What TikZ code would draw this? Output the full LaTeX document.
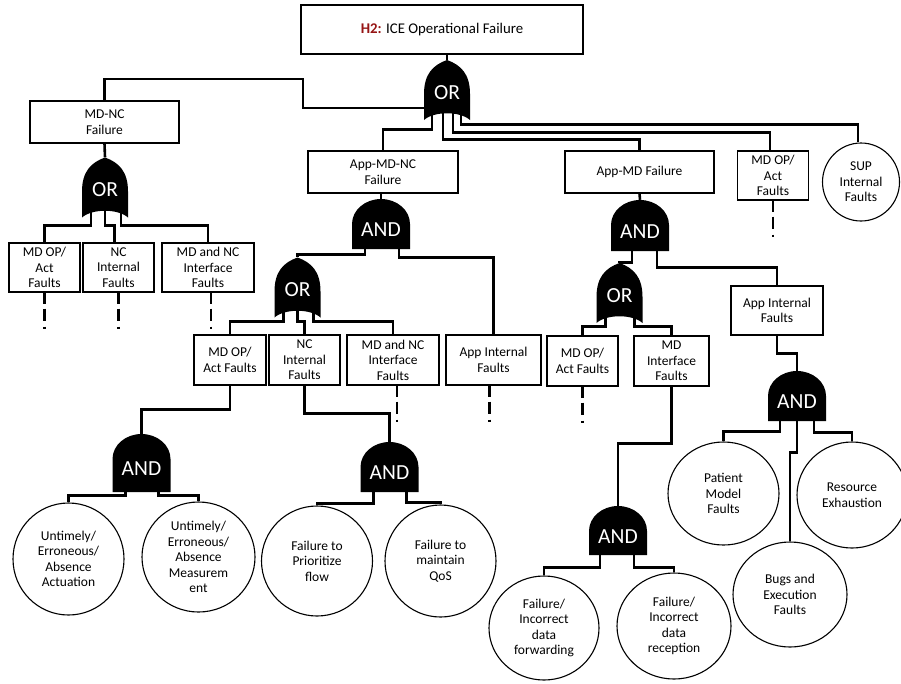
\documentclass[tikz,border=0pt]{standalone}
\usepackage{fontspec}
\setmainfont{Carlito}
\usetikzlibrary{shapes.geometric}
\definecolor{hred}{RGB}{150,20,20}
\begin{document}
\begin{tikzpicture}[x=1pt,y=-1pt,
  every node/.style={inner sep=0pt, align=center, font=\fontsize{13.5}{15.5}\selectfont},
  evbox/.style args={#1x#2}{draw, line width=1.2pt, fill=white, minimum width=#1pt, minimum height=#2pt},
  leaf/.style args={#1x#2}{ellipse, draw, line width=1.1pt, fill=white, minimum width=#1pt, minimum height=#2pt},
  gatelabel/.style={text=white, font=\fontsize{21.5}{22}\selectfont},
  orgate/.style={gatelabel, minimum width=46pt, minimum height=60pt, text height=18pt, text depth=0pt,
    path picture={\fill[black]
      (path picture bounding box.south west)
      -- ([yshift=26pt]path picture bounding box.south west)
      .. controls ([yshift=46pt]path picture bounding box.south west) and ([xshift=9pt,yshift=-5pt]path picture bounding box.north west)
      .. (path picture bounding box.north)
      .. controls ([xshift=-9pt,yshift=-5pt]path picture bounding box.north east) and ([yshift=46pt]path picture bounding box.south east)
      .. ([yshift=26pt]path picture bounding box.south east)
      -- (path picture bounding box.south east)
      .. controls ([xshift=-10pt,yshift=9pt]path picture bounding box.south east) and ([xshift=10pt,yshift=9pt]path picture bounding box.south west)
      .. (path picture bounding box.south west) -- cycle;}},
  andgate/.style={gatelabel, minimum width=58pt, minimum height=#1pt, text height=25pt, text depth=0pt,
    path picture={\fill[black]
      (path picture bounding box.south west)
      -- ([yshift=-25pt]path picture bounding box.north west)
      arc[start angle=180, end angle=0, x radius=29pt, y radius=25pt]
      -- (path picture bounding box.south east) -- cycle;}},
  wire/.style={line width=2.6pt},
  lead/.style={wire, dash pattern=on 11pt off 5pt on 12pt off 6pt on 2pt off 40pt}
]
\useasboundingbox (0,0) rectangle (901,683);

% top event and its OR gate
\node[evbox=282x49, font=\fontsize{14.8}{17}\selectfont] (top) at (442,29.5) {\textcolor{hred}{\textbf{H2:}} ICE Operational Failure};
\node[orgate] (g0) at (447,90) {OR};

% MD-NC branch
\node[evbox=149x42] (mdnc) at (104.5,122) {MD-NC\\Failure};
\node[orgate] (g1) at (105,187.5) {OR};
\node[evbox=71x49] (l1) at (44.5,267.5) {MD OP/\\Act\\Faults};
\node[evbox=71x49] (l2) at (118.5,267.5) {NC\\Internal\\Faults};
\node[evbox=92x49] (l3) at (208,267.5) {MD and NC\\Interface\\Faults};

% App-MD-NC branch
\node[evbox=150x42] (amn) at (383,172) {App-MD-NC\\Failure};
\node[andgate=50] (g2) at (381,224) {AND};
\node[orgate] (g3) at (297.5,287.5) {OR};
\node[evbox=72x50] (m1) at (230,360) {MD OP/\\Act Faults};
\node[evbox=71x50] (m2) at (304.5,360) {NC\\Internal\\Faults};
\node[evbox=92x50] (m3) at (393,360) {MD and NC\\Interface\\Faults};
\node[evbox=95x50] (ai1) at (493.5,360) {App Internal\\Faults};
\node[andgate=58] (g4) at (141.5,463) {AND};
\node[andgate=50] (g5) at (389.5,467) {AND};
\node[leaf=111x112] (c1) at (68.5,559) {Untimely/\\Erroneous/\\Absence\\Actuation};
\node[leaf=113x110] (c2) at (198.5,557) {Untimely/\\Erroneous/\\Absence\\Measurem\\ent};
\node[leaf=111x110] (c3) at (317,561) {Failure to\\Prioritize\\flow};
\node[leaf=111x112] (c4) at (440.5,561) {Failure to\\maintain\\QoS};

% App-MD branch
\node[evbox=149x42] (amd) at (639.5,172) {App-MD Failure};
\node[andgate=51] (g6) at (640,225.5) {AND};
\node[orgate] (g7) at (619.5,293) {OR};
\node[evbox=71x50] (r1) at (582.5,361) {MD OP/\\Act Faults};
\node[evbox=75x50] (r2) at (671.5,361) {MD\\Interface\\Faults};
\node[andgate=49] (g8) at (618,530.5) {AND};
\node[leaf=110x104] (c5) at (544,628) {Failure/\\Incorrect\\data\\forwarding};
\node[leaf=114x106] (c6) at (674,626) {Failure/\\Incorrect\\data\\reception};
\node[evbox=92x49] (ai2) at (777,310.5) {App Internal\\Faults};
\node[andgate=50] (g9) at (797,396) {AND};
\node[leaf=111x103] (c7) at (723.5,493.5) {Patient\\Model\\Faults};
\node[leaf=110x106] (c8) at (852,495) {Resource\\Exhaustion};
\node[leaf=114x105] (c9) at (790,594.5) {Bugs and\\Execution\\Faults};

% remaining direct children of the top gate
\node[evbox=71x49] (r3) at (773,175.5) {MD OP/\\Act\\Faults};
\node[leaf=77x78] (sup) at (861,182) {SUP\\Internal\\Faults};

% connectors from the top gate
\draw[wire] (g0.north |- top.south) -- (g0.north);
\draw[wire] ([yshift=-18pt]g0.west) -- ++(-121,0) -- ++(0,-29) -| (mdnc.north);
\draw[wire] ([xshift=-15pt,yshift=8pt]g0.south) -- ++(0,17) -| (amn.north);
\draw[wire] ([xshift=-4pt,yshift=8pt]g0.south) -- ++(0,27) -| (amd.north);
\draw[wire] ([xshift=6pt,yshift=8pt]g0.south) -- ++(0,20) -| ([xshift=-3pt]r3.north);
\draw[wire] ([xshift=14pt,yshift=8pt]g0.south) -- ++(0,12) -| ([xshift=-3pt]sup.north);
\draw[lead] (r3.south) -- ++(0,36);

% MD-NC subtree
\draw[wire] (mdnc.south) -- (g1.north);
\draw[wire] ([xshift=-14pt,yshift=8pt]g1.south) -- ++(0,15.5) -| (l1.north);
\draw[wire] ([yshift=9pt]g1.south) -- ++(0,16.5) -| ([xshift=-4pt]l2.north);
\draw[wire] ([xshift=16pt,yshift=8pt]g1.south) -- ++(0,15.5) -| (l3.north);
\draw[lead] (l1.south) -- ++(0,36);
\draw[lead] (l2.south) -- ++(0,36);
\draw[lead] ([xshift=3pt]l3.south) -- ++(0,36);

% App-MD-NC subtree
\draw[wire] (g2.north |- amn.south) -- (g2.north);
\draw[wire] ([xshift=-16pt,yshift=2pt]g2.south) -- ++(0,7) -| (g3.north);
\draw[wire] ([xshift=18pt,yshift=2pt]g2.south) -- ++(0,10) -| (ai1.north);
\draw[wire] ([xshift=-14pt,yshift=6pt]g3.south) -- ++(0,9.5) -| (m1.north);
\draw[wire] ([yshift=8pt]g3.south) -- ++(0,11.5) -| (m2.north);
\draw[wire] ([xshift=16pt,yshift=6pt]g3.south) -- ++(0,9.5) -| (m3.north);
\draw[lead] ([xshift=4pt]m3.south) -- ++(0,36);
\draw[lead] ([xshift=-4pt]ai1.south) -- ++(0,36);
\draw[wire] (m1.south) -- ++(0,24) -| (g4.north);
\draw[wire] (m2.south) -- ++(0,28) -| (g5.north);
\draw[wire] ([xshift=-16pt,yshift=2pt]g4.south) -- ++(0,5) -| (c1.north);
\draw[wire] ([xshift=17pt,yshift=2pt]g4.south) -- ++(0,5) -| (c2.north);
\draw[wire] ([xshift=-16pt,yshift=2pt]g5.south) -- ++(0,13) -| (c3.north);
\draw[wire] ([xshift=17pt,yshift=2pt]g5.south) -- ++(0,12) -| (c4.north);

% App-MD subtree
\draw[wire] (amd.south) -- (g6.north);
\draw[wire] ([xshift=-8pt,yshift=2pt]g6.south) -- ++(0,13) -| (g7.north);
\draw[wire] ([xshift=17pt,yshift=2pt]g6.south) -- ++(0,18) -| (ai2.north);
\draw[wire] ([xshift=-14pt,yshift=6pt]g7.south) -- ++(0,9) -| (r1.north);
\draw[wire] ([xshift=15pt,yshift=6pt]g7.south) -- ++(0,9) -| (r2.north);
\draw[lead] (r1.south) -- ++(0,36);
\draw[wire] (r2.south) -- ++(0,57) -| (g8.north);
\draw[wire] ([xshift=-18pt,yshift=2pt]g8.south) -- ++(0,14) -| (c5.north);
\draw[wire] ([xshift=16pt,yshift=2pt]g8.south) -- ++(0,14) -| (c6.north);
\draw[wire] (ai2.south) -- ++(0,18) -| (g9.north);
\draw[wire] ([xshift=-17pt,yshift=2pt]g9.south) -- ++(0,12) -| (c7.north);
\draw[wire] ([yshift=2pt]g9.south) -- ++(0,33) -| (c9.north);
\draw[wire] ([xshift=17pt,yshift=2pt]g9.south) -- ++(0,13) -| (c8.north);
\end{tikzpicture}
\end{document}
